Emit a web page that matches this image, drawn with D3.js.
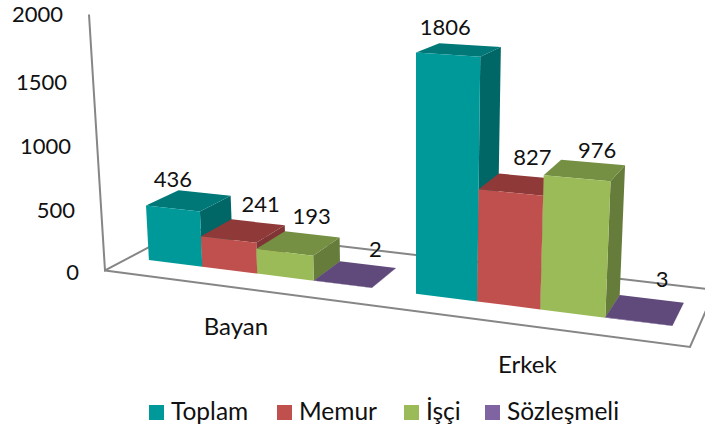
<!DOCTYPE html>
<html><head><meta charset="utf-8">
<script src="https://cdn.jsdelivr.net/npm/d3@7/dist/d3.min.js"></script>
<style>html,body{margin:0;background:#fff}svg{display:block}text{font-family:Lato,sans-serif;fill:#111}</style>
</head><body><div id="c"></div>
<script>
const categories = ["Bayan", "Erkek"];
const seriesNames = ["Toplam", "Memur", "İşçi", "Sözleşmeli"];
const toplam = [436, 1806];
const memur = [241, 827];
const isci = [193, 976];
const sozlesmeli = [2, 3];
const yTicks = [0, 500, 1000, 1500, 2000];
const seriesValues = [toplam, memur, isci, sozlesmeli];

const frontColors = ["#009999", "#C0504D", "#9BBB59", "#604A7B"];
const topColors = ["#007878", "#8F3A38", "#758F43", "#604A7B"];
const sideColors = ["#006666", "#803534", "#667C3A", "#604A7B"];
const legendColors = ["#009999", "#C0504D", "#9BBB59", "#8064A2"];
// label nudges in pixels from the centre of a bar's top face: [series][category]
const labelNudge = [[[-16, -22], [-14, -23]], [[17, -27], [12, -28]], [[13, -28], [12, -21]], [[20, -26], [17, -31]]];
const axisLabelNudge = [1, 3, 3, 3, -1];

const W = 705, H = 432;
const svg = d3.select("#c").append("svg").attr("width", W).attr("height", H);

// Floor plane homography: unit square to the drawn quadrilateral
const FL = [105, 270.5], FR = [690, 347], BR = [715, 290], BL = [185, 228];
const dx1 = FR[0] - BR[0], dx2 = BL[0] - BR[0], sx = FL[0] - FR[0] + BR[0] - BL[0];
const dy1 = FR[1] - BR[1], dy2 = BL[1] - BR[1], sy = FL[1] - FR[1] + BR[1] - BL[1];
const den = dx1 * dy2 - dx2 * dy1;
const g = (sx * dy2 - dx2 * sy) / den, h = (dx1 * sy - sx * dy1) / den;
const heightScale = d3.scaleLinear().domain([0, 2000]).range([0, 256]);
function project(u, v, val) {
  const w = 1 + g * u + h * v;
  const X = (FL[0] + (FR[0] * (1 + g) - FL[0]) * u + (BL[0] * (1 + h) - FL[0]) * v) / w;
  const Y = (FL[1] + (FR[1] * (1 + g) - FL[1]) * u + (BL[1] * (1 + h) - FL[1]) * v) / w;
  const ht = heightScale(val) / w;
  return [X + (X - 415) * ht / 4960, Y - ht];
}

const uCat = d3.scaleBand().domain(categories).range([0, 1]).paddingInner(0.156).paddingOuter(0.078);
const uSer = d3.scaleBand().domain(seriesNames).range([0, uCat.bandwidth()]);
const vDepth = d3.scaleLinear().domain([0, 1]).range([0.285, 0.695]);

// walls and floor lines
const lineGen = d3.line();
const gridLines = [
  [project(0, 0, 2000), project(0, 0, 0), project(0, 1, 0), project(1, 1, 0)],
  [project(0, 0, 0), project(1, 0, 0), project(1, 1, 0)]
];
svg.append("g").selectAll("path").data(gridLines).join("path")
  .attr("d", lineGen).attr("fill", "none").attr("stroke", "#868686").attr("stroke-width", 2);

// bars, painted left to right
const bars = [];
categories.forEach((c, ci) => seriesNames.forEach((s, si) => {
  const u0 = uCat(c) + uSer(s), u1 = u0 + uSer.bandwidth();
  bars.push({ ci, si, u0, u1, val: seriesValues[si][ci] });
}));
const poly = pts => "M" + pts.map(p => p.join(",")).join("L") + "Z";
const bg = svg.append("g").selectAll("g").data(bars).join("g");
const v0 = vDepth(0), v1 = vDepth(1);
bg.append("path").attr("fill", d => sideColors[d.si]).attr("d", d => poly([
  project(d.u1, v0, 0), project(d.u1, v1, 0), project(d.u1, v1, d.val), project(d.u1, v0, d.val)]));
bg.append("path").attr("fill", d => topColors[d.si]).attr("d", d => poly([
  project(d.u0, v0, d.val), project(d.u0, v1, d.val), project(d.u1, v1, d.val), project(d.u1, v0, d.val)]));
bg.append("path").attr("fill", d => frontColors[d.si]).attr("d", d => poly([
  project(d.u0, v0, 0), project(d.u1, v0, 0), project(d.u1, v0, d.val), project(d.u0, v0, d.val)]));

// value labels
svg.append("g").selectAll("text").data(bars).join("text")
  .attr("text-anchor", "middle").attr("font-size", 22).attr("dominant-baseline", "central")
  .attr("x", d => project((d.u0 + d.u1) / 2, (v0 + v1) / 2, d.val)[0] + labelNudge[d.si][d.ci][0])
  .attr("y", d => project((d.u0 + d.u1) / 2, (v0 + v1) / 2, d.val)[1] + labelNudge[d.si][d.ci][1])
  .text(d => d.val);

// value axis labels
svg.append("g").selectAll("text").data(yTicks).join("text")
  .attr("text-anchor", "end").attr("font-size", 22).attr("dominant-baseline", "central")
  .attr("x", t => project(0, 0, t)[0] - 26)
  .attr("y", (t, i) => project(0, 0, t)[1] + axisLabelNudge[i])
  .text(t => t);

// category labels
svg.append("g").selectAll("text").data(categories).join("text")
  .attr("text-anchor", "middle").attr("font-size", 24).attr("dominant-baseline", "central")
  .attr("x", c => project(uCat(c) + uCat.bandwidth() / 2, 0, 0)[0])
  .attr("y", c => project(uCat(c) + uCat.bandwidth() / 2, 0, 0)[1] + 38)
  .text(c => c);

// legend
const legendX = d3.scaleOrdinal().domain(seriesNames).range([149, 277, 404, 485]);
const lg = svg.append("g").selectAll("g").data(seriesNames).join("g")
  .attr("transform", s => `translate(${legendX(s)},405)`);
lg.append("rect").attr("width", 15).attr("height", 15).attr("fill", (s, i) => legendColors[i]);
lg.append("text").attr("x", 22).attr("y", 15).attr("font-size", 24.5).text(s => s);
</script></body></html>
